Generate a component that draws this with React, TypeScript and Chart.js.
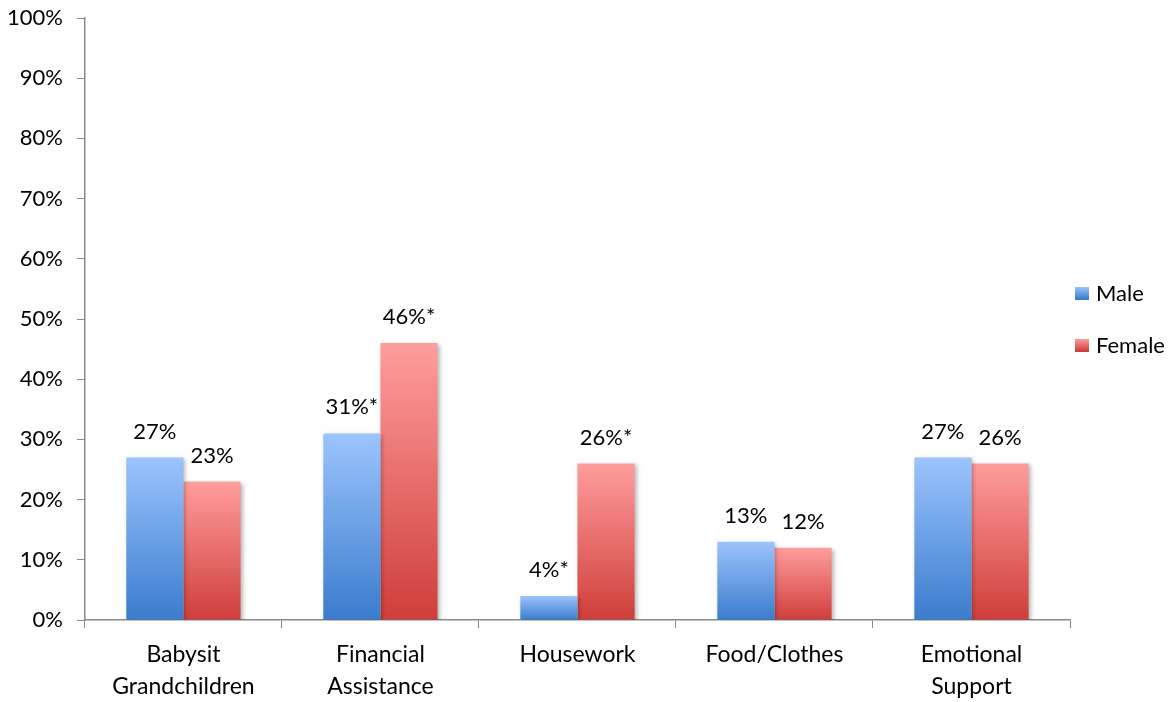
import React, { useEffect, useRef } from "react";
import { Chart, registerables } from "chart.js";

Chart.register(...registerables);

const categories: string[][] = [
  ["Babysit", "Grandchildren"],
  ["Financial", "Assistance"],
  ["Housework"],
  ["Food/Clothes"],
  ["Emotional", "Support"],
];
const seriesNames = ["Male", "Female"];
const maleValues = [27, 31, 4, 13, 27];
const femaleValues = [23, 46, 26, 12, 26];
const maleLabels = ["27%", "31%*", "4%*", "13%", "27%"];
const femaleLabels = ["23%", "46%*", "26%*", "12%", "26%"];
const yTicks = [0, 10, 20, 30, 40, 50, 60, 70, 80, 90, 100];

const FONT = "Lato, 'Open Sans', sans-serif";
const FILLS = [
  ["#9cc4fd", "#3a7ccd"],
  ["#ff9d9d", "#cf3e3a"],
];

function gradientFor(top: string, bottom: string) {
  return (ctx: any) => {
    const chart = ctx.chart;
    const y = chart.scales?.y;
    if (!y || ctx.type !== "data") return bottom;
    const v = ctx.parsed?.y ?? 0;
    const y0 = y.getPixelForValue(0);
    const y1 = y.getPixelForValue(v);
    if (!isFinite(y0) || !isFinite(y1) || y0 === y1) return bottom;
    const g = chart.ctx.createLinearGradient(0, y1, 0, y0);
    g.addColorStop(0, top);
    g.addColorStop(1, bottom);
    return g;
  };
}

const shadowPlugin = {
  id: "barShadow",
  beforeDatasetsDraw(chart: any) {
    const c = chart.ctx;
    c.save();
    c.shadowColor = "rgba(0,0,0,0.28)";
    c.shadowBlur = 4;
    c.shadowOffsetX = 2;
    c.shadowOffsetY = 2;
  },
  afterDatasetsDraw(chart: any) {
    chart.ctx.restore();
  },
};

const labelPlugin = {
  id: "valueLabels",
  afterDatasetsDraw(chart: any) {
    const c = chart.ctx;
    const sets = [maleLabels, femaleLabels];
    c.save();
    c.font = `22px ${FONT}`;
    c.fillStyle = "#000";
    c.textAlign = "center";
    c.textBaseline = "middle";
    chart.data.datasets.forEach((ds: any, di: number) => {
      const meta = chart.getDatasetMeta(di);
      meta.data.forEach((bar: any, i: number) => {
        c.fillText(sets[di][i], bar.x, bar.y - 26);
      });
    });
    c.restore();
  },
};

const legendPlugin = {
  id: "customLegend",
  afterDraw(chart: any) {
    const c = chart.ctx;
    const area = chart.chartArea;
    const x = area.right + 5;
    const cy = (area.top + area.bottom) / 2;
    const gap = 52;
    c.save();
    c.font = `22px ${FONT}`;
    c.textBaseline = "middle";
    c.textAlign = "left";
    seriesNames.forEach((name, i) => {
      const y = cy - gap / 2 + i * gap;
      const g = c.createLinearGradient(0, y - 6, 0, y + 6);
      g.addColorStop(0, FILLS[i][0]);
      g.addColorStop(1, FILLS[i][1]);
      c.fillStyle = g;
      c.fillRect(x, y - 6, 14, 13);
      c.fillStyle = "#000";
      c.fillText(name, x + 21, y + 1);
    });
    c.restore();
  },
};

export default function App() {
  const ref = useRef<HTMLCanvasElement>(null);
  useEffect(() => {
    if (!ref.current) return;
    const chart = new Chart(ref.current, {
      type: "bar",
      data: {
        labels: categories,
        datasets: [
          {
            label: seriesNames[0],
            data: maleValues,
            backgroundColor: gradientFor(FILLS[0][0], FILLS[0][1]),
            borderWidth: 0,
          },
          {
            label: seriesNames[1],
            data: femaleValues,
            backgroundColor: gradientFor(FILLS[1][0], FILLS[1][1]),
            borderWidth: 0,
          },
        ],
      },
      options: {
        animation: false,
        responsive: true,
        maintainAspectRatio: false,
        layout: { padding: { top: 18, right: 106, left: -7, bottom: -12 } },
        datasets: { bar: { categoryPercentage: 0.58, barPercentage: 1 } },
        plugins: {
          legend: { display: false },
          tooltip: { enabled: false },
        },
        scales: {
          x: {
            grid: {
              offset: true,
              drawOnChartArea: false,
              drawTicks: true,
              tickLength: 8,
              color: "#8a8a8a",
            },
            border: { color: "#8a8a8a", width: 1.5 },
            ticks: {
              color: "#000",
              font: { family: FONT, size: 23, lineHeight: 32 / 23 },
              padding: 11,
              maxRotation: 0,
            },
          },
          y: {
            min: 0,
            max: 100,
            afterBuildTicks: (axis: any) => {
              axis.ticks = yTicks.map((v) => ({ value: v }));
            },
            afterFit: (axis: any) => {
              axis.paddingTop = 0;
              axis.paddingBottom = 0;
            },
            grid: {
              drawOnChartArea: false,
              drawTicks: true,
              tickLength: 8,
              color: "#8a8a8a",
            },
            border: { color: "#8a8a8a", width: 1.5 },
            ticks: {
              color: "#000",
              font: { family: FONT, size: 22 },
              padding: 14,
              callback: (v: any) => `${v}%`,
            },
          },
        },
      },
      plugins: [shadowPlugin, labelPlugin, legendPlugin],
    });
    return () => chart.destroy();
  }, []);
  return (
    <div style={{ position: "fixed", left: 0, top: 0, width: 1176, height: 702, background: "#fff" }}>
      <canvas ref={ref} />
    </div>
  );
}
